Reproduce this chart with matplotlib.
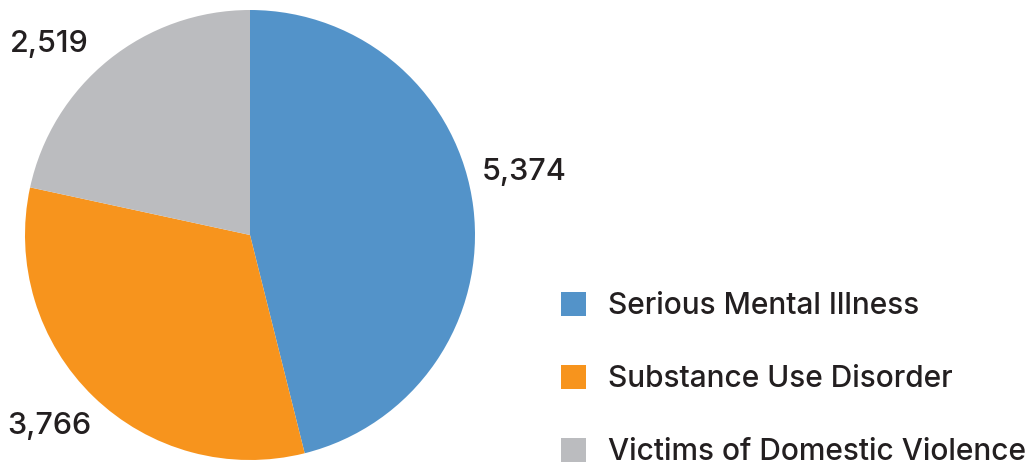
import matplotlib
matplotlib.use("Agg")
import matplotlib.pyplot as plt
from matplotlib.patches import Patch

categories = ["Serious Mental Illness", "Substance Use Disorder", "Victims of Domestic Violence"]
counts = [5374, 3766, 2519]
colors = ["#5393C9", "#F7941D", "#BBBCBF"]

# label anchor points, in axes data units (pie radius = 1)
label_pos = [(1.22, 0.28), (-0.89, -0.85), (-0.89, 0.85)]

plt.rcParams['font.family'] = ['Inter', 'DejaVu Sans']
plt.rcParams['font.weight'] = 'medium'
text_color = "#231F20"

W, H = 1032, 465
fig = plt.figure(figsize=(W / 100, H / 100), dpi=100)
# pie centre (250, 235) px, radius 225 px
ax = fig.add_axes([25 / W, 5 / H, 450 / W, 450 / H])
ax.pie(counts, colors=colors, startangle=90, counterclock=False, radius=1,
       wedgeprops=dict(linewidth=0))
ax.set_xlim(-1, 1)
ax.set_ylim(-1, 1)
ax.set_aspect('equal')
ax.axis('off')

for (x, y), v in zip(label_pos, counts):
    ax.text(x, y, f"{v:,}", ha='center', va='center', fontsize=22,
            fontweight='medium', color=text_color, clip_on=False)

handles = [Patch(facecolor=c, edgecolor='none') for c in colors]
leg = fig.legend(handles, categories, loc='upper left',
                 bbox_to_anchor=(561 / W, 1 - 292 / H), frameon=False,
                 fontsize=21.5, handlelength=0.84, handleheight=0.84,
                 handletextpad=0.72, labelspacing=1.5, borderpad=0,
                 borderaxespad=0)
for t in leg.get_texts():
    t.set_color(text_color)
    t.set_fontweight('medium')

fig.savefig("out.png", dpi=100)
